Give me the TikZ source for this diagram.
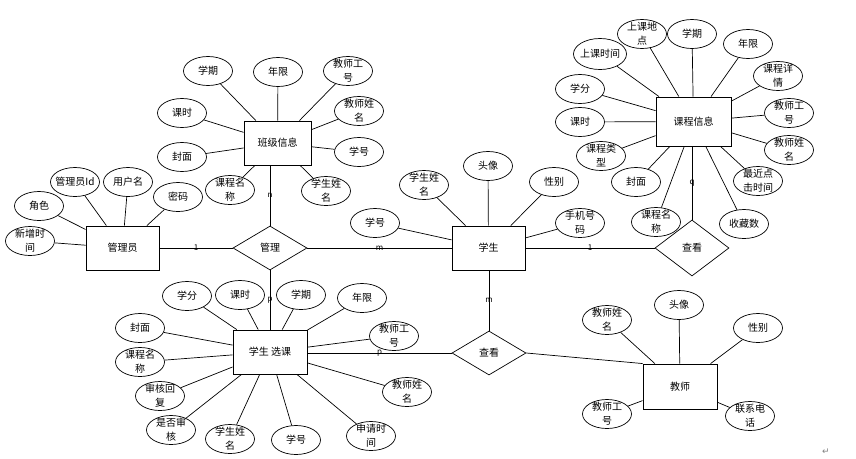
\documentclass[tikz,border=0pt]{standalone}
\usepackage{fontspec}
\newfontfamily\cjk{Noto Sans CJK SC}
\newfontfamily\symfont{DejaVu Sans}
\usepackage{tikz}
\usetikzlibrary{shapes.geometric}

\tikzset{
  every node/.style={font=\cjk\fontsize{10}{14}\selectfont},
  entity/.style={draw, line width=0.9pt, minimum width=73pt, minimum height=44pt, inner sep=0pt},
  attr/.style={draw, ellipse, line width=0.7pt, minimum width=49pt, minimum height=29pt, inner sep=-3pt, align=center},
  rel/.style={draw, diamond, line width=0.7pt, minimum width=74pt, minimum height=44pt, inner sep=0pt},
  link/.style={line width=0.7pt},
  card/.style={font=\cjk\fontsize{8}{9}\selectfont, inner sep=0pt}
}

\begin{document}
\begin{tikzpicture}[x=1pt, y=-1pt]
\useasboundingbox (0,0) rectangle (856,458);

% entities
\node [entity] (admin) at (122.5,248) {管理员};
\node [entity, minimum width=67pt] (cls) at (277.5,143) {班级信息};
\node [entity] (stu) at (488.5,248) {学生};
\node [entity, minimum width=75pt, minimum height=49pt] (course) at (693.5,121.5) {课程信息};
\node [entity, minimum width=74pt] (sel) at (270,352) {学生 选课};
\node [entity, minimum width=74pt, minimum height=45pt] (tea) at (680,386.5) {教师};

% relationships
\node [rel] (mng) at (270,248) {管理};
\node [rel, minimum height=56pt] (viewc) at (692,248) {查看};
\node [rel] (views) at (489,353) {查看};

\draw [link] (admin) -- node [card] {1} (mng);
\draw [link] (mng) -- node [card] {m} (stu);
\draw [link] (stu) -- node [card] {1} (viewc);
\draw [link] (viewc.north) -- node [card] {q} (viewc.north |- course.south);
\draw [link] (mng.north) -- node [card] {n} (mng.north |- cls.south);
\draw [link] (mng.south) -- node [card] {p} (mng.south |- sel.north);
\draw [link] (sel.east |- views.west) -- node [card] {p} (views.west);
\draw [link] (stu.south -| views.north) -- node [card] {m} (views.north);
\draw [link] (views.east) -- (tea.north west);

% admin attributes
\node [attr] (aId) at (75,182) {管理员Id};
\node [attr] (aUser) at (128,182) {用户名};
\node [attr] (aRole) at (39,206) {角色};
\node [attr] (aNew) at (30,241) {新增时\\间};
\node [attr] (aPwd) at (178,197) {密码};
\foreach \a in {aId,aUser,aRole,aNew,aPwd}
  \draw [link] (\a) -- (admin);

% class attributes
\node [attr] (cTerm) at (208,71) {学期};
\node [attr] (cYear) at (278,72) {年限};
\node [attr] (cTno) at (348,71) {教师工\\号};
\node [attr] (cTname) at (359,111) {教师姓\\名};
\node [attr] (cSno) at (359,152) {学号};
\node [attr] (cHour) at (182,113) {课时};
\node [attr] (cCover) at (182,157) {封面};
\node [attr] (cCname) at (230,190) {课程名\\称};
\node [attr] (cSname) at (326,191) {学生姓\\名};
\foreach \a in {cTerm,cYear,cTno,cTname,cSno,cHour,cCover,cCname,cSname}
  \draw [link] (\a) -- (cls);

% student attributes
\node [attr] (sName) at (424,185) {学生姓\\名};
\node [attr] (sAvatar) at (488,166) {头像};
\node [attr] (sSex) at (554,182) {性别};
\node [attr] (sNo) at (375,223) {学号};
\node [attr] (sPhone) at (580,223) {手机号\\码};
\foreach \a in {sName,sAvatar,sSex,sNo,sPhone}
  \draw [link] (\a) -- (stu);

% course attributes
\node [attr] (kPlace) at (642,34) {上课地\\点};
\node [attr] (kTerm) at (692,34) {学期};
\node [attr] (kYear) at (748,44) {年限};
\node [attr, minimum width=53pt, minimum height=31pt] (kTime) at (600,54) {上课时间};
\node [attr] (kDetail) at (778,76) {课程详\\情};
\node [attr] (kCredit) at (580,89) {学分};
\node [attr] (kTno) at (789,113) {教师工\\号};
\node [attr] (kHour) at (580,122) {课时};
\node [attr] (kTname) at (789,150) {教师姓\\名};
\node [attr] (kType) at (601,156) {课程类\\型};
\node [attr] (kCover) at (636,182) {封面};
\node [attr] (kClick) at (758,181) {最近点\\击时间};
\node [attr] (kName) at (656,222) {课程名\\称};
\node [attr] (kFav) at (744,224) {收藏数};
\foreach \a in {kPlace,kTerm,kYear,kTime,kDetail,kCredit,kTno,kHour,kTname,kType,kCover,kClick,kName,kFav}
  \draw [link] (\a) -- (course);

% selection attributes
\node [attr] (xCredit) at (187,296) {学分};
\node [attr] (xHour) at (240,295) {课时};
\node [attr] (xTerm) at (301,295) {学期};
\node [attr] (xYear) at (362,298) {年限};
\node [attr] (xCover) at (140,328) {封面};
\node [attr] (xTno) at (394,336) {教师工\\号};
\node [attr] (xName) at (140,362) {课程名\\称};
\node [attr] (xReply) at (160,396) {审核回\\复};
\node [attr] (xTname) at (407,392) {教师姓\\名};
\node [attr] (xCheck) at (171,430) {是否审\\核};
\node [attr] (xSname) at (230,439) {学生姓\\名};
\node [attr] (xSno) at (296,440) {学号};
\node [attr] (xApply) at (371,436) {申请时\\间};
\foreach \a in {xCredit,xHour,xTerm,xYear,xCover,xTno,xName,xReply,xTname,xCheck,xSname,xSno,xApply}
  \draw [link] (\a) -- (sel);

% teacher attributes
\node [attr] (tName) at (607,320) {教师姓\\名};
\node [attr] (tAvatar) at (679,305) {头像};
\node [attr] (tSex) at (758,328) {性别};
\node [attr] (tNo) at (607,414) {教师工\\号};
\node [attr] (tPhone) at (750,416) {联系电\\话};
\foreach \a in {tName,tAvatar,tSex,tNo,tPhone}
  \draw [link] (\a) -- (tea);

\node [text=gray, font=\symfont\fontsize{9}{10}\selectfont] (ret) at (826,452) {↵};

\end{tikzpicture}
\end{document}
